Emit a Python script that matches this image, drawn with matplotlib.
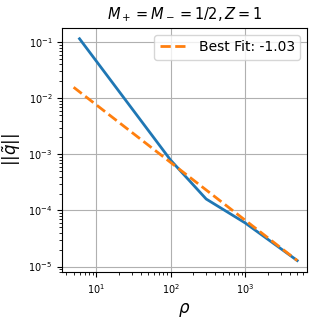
import matplotlib
matplotlib.use("Agg")
import matplotlib.pyplot as plt

rho = [6, 100, 300, 1000, 5000]
q_norm = [0.115, 7.9e-4, 1.6e-4, 6.0e-5, 1.28e-5]
fit_rho = [5, 5000]
fit_q = [0.0157, 1.28e-5]
fit_label = "Best Fit: -1.03"

fig = plt.figure(figsize=(3.2, 3.2), dpi=100)
ax = fig.add_axes([0.194, 0.15, 0.766, 0.763])
ax.loglog(rho, q_norm, color="#1f77b4", lw=2)
ax.loglog(fit_rho, fit_q, color="#ff7f0e", lw=2, ls="--", label=fit_label)
ax.set_xlim(3.5, 6800)
ax.set_ylim(8.0e-6, 0.18)
ax.grid(True, which="major")
ax.tick_params(labelsize=7)
ax.set_xlabel(r"$\rho$", fontsize=12)
ax.set_ylabel(r"$||\tilde{q}||$", fontsize=12)
ax.set_title(r"$M_+ = M_- = 1/2, Z = 1$", fontsize=10.5)
ax.legend(fontsize=10, loc="upper right")
fig.savefig("out.png", dpi=100)
